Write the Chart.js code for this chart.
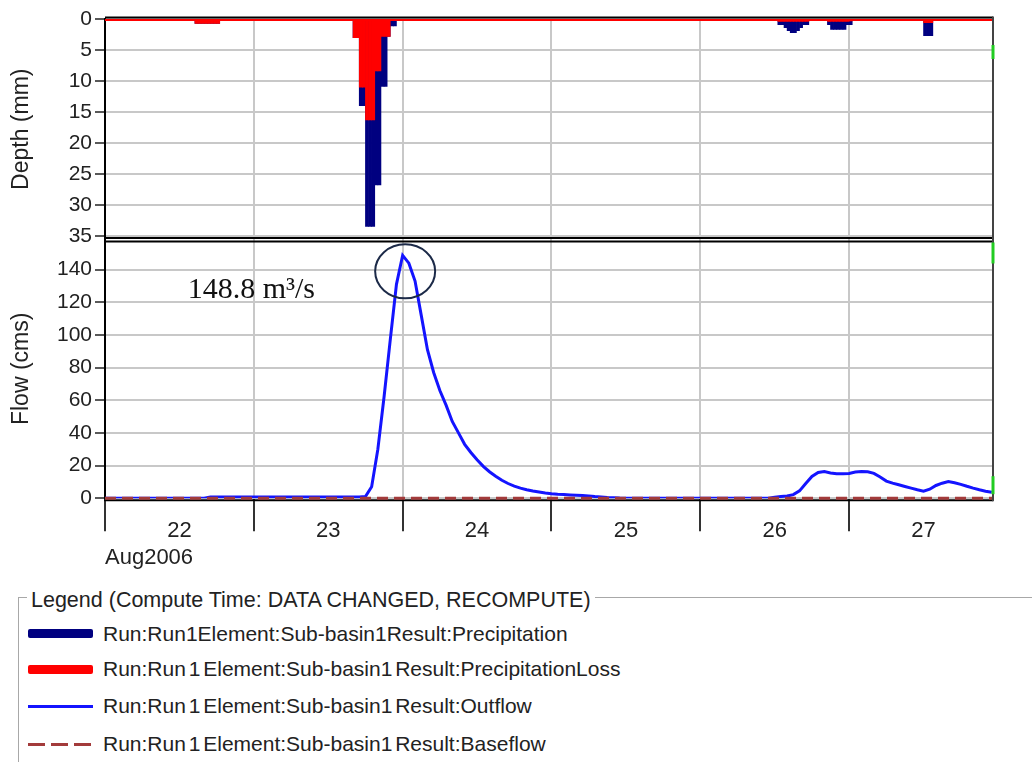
<!DOCTYPE html>
<html>
<head>
<meta charset="utf-8">
<script src="https://cdn.jsdelivr.net/npm/chart.js@4.4.0/dist/chart.umd.min.js"></script>
<style>
  html, body { margin: 0; padding: 0; background: #fff; }
  body { width: 1032px; height: 762px; position: relative; overflow: hidden;
         font-family: "Liberation Sans", Arial, sans-serif; color: #222; }
  #wrap { position: absolute; left: 0; top: 0; width: 1032px; height: 575px; }
  .legend-box { position: absolute; left: 18px; top: 597px; width: 1100px; height: 300px;
                border-top: 1px solid #a8a8a8; border-left: 1px solid #a8a8a8; }
  .legend-title { position: absolute; left: 27px; top: 587px; padding: 0 4px; background: #fff;
                  font-size: 21.5px; line-height: 26px; white-space: nowrap; }
  .item { position: absolute; left: 103px; font-size: 21px; line-height: 24px; white-space: nowrap; word-spacing: -3px; }
  .sw { position: absolute; left: 28px; width: 65px; }
</style>
</head>
<body>
<div id="wrap"><canvas id="chart" width="1032" height="575"></canvas></div>

<div class="legend-box"></div>
<div class="legend-title">Legend (Compute Time: DATA CHANGED, RECOMPUTE)</div>
<div class="sw" style="top:629px;height:9px;background:#000080;border-radius:2px"></div>
<div class="item" style="top:622px">Run:Run1Element:Sub-basin1Result:Precipitation</div>
<div class="sw" style="top:665px;height:9px;background:#ff0000;border-radius:2px"></div>
<div class="item" style="top:657px">Run:Run 1 Element:Sub-basin1 Result:PrecipitationLoss</div>
<div class="sw" style="top:705px;height:3px;background:#1414ff"></div>
<div class="item" style="top:694px">Run:Run 1 Element:Sub-basin1 Result:Outflow</div>
<div class="sw" style="top:743px;height:3px;background:repeating-linear-gradient(to right,#a33b3b 0 17px,transparent 17px 23px)"></div>
<div class="item" style="top:732px">Run:Run 1 Element:Sub-basin1 Result:Baseflow</div>

<script>
// time axis: hours after 22 Aug 2006 00:00
const dayLabels = ['22', '23', '24', '25', '26', '27'];
const monthLabel = 'Aug2006';
const hoursShown = 143.2;

// precipitation bars, half-hour intervals (start hour of interval)
const precipStep = 0.5;
const precipTime = [14.5, 15, 15.5, 16, 16.5, 17, 17.5, 18,
  40, 40.5, 41, 41.5, 42, 42.5, 43, 43.5, 44, 44.5, 45, 45.5, 46, 46.5,
  108.5, 109, 109.5, 110, 110.5, 111, 111.5, 112, 112.5, 113,
  116.5, 117, 117.5, 118, 118.5, 119, 119.5, 120,
  132, 132.5, 133];
const precipMm = [0.7, 0.7, 0.7, 0.7, 0.7, 0.7, 0.7, 0.7,
  3, 3, 14, 14, 33.5, 33.5, 33.5, 26.8, 26.8, 10.9, 10.9, 2.8, 1.1, 1.1,
  0.9, 0.9, 1.4, 1.9, 2.2, 2.2, 1.9, 1.4, 0.9, 0.9,
  0.9, 1.7, 1.7, 1.7, 1.7, 1.7, 0.9, 0.9,
  2.7, 2.7, 2.7];
const lossMm = [0.7, 0.7, 0.7, 0.7, 0.7, 0.7, 0.7, 0.7,
  3, 3, 11, 11, 16.3, 16.3, 16.3, 8.4, 8.4, 2.8, 2.8, 2.8, 0, 0,
  0.4, 0.4, 0.4, 0.4, 0.4, 0.4, 0.4, 0.4, 0.4, 0.4,
  0.4, 0.4, 0.4, 0.4, 0.4, 0.4, 0.4, 0.3,
  0.6, 0.6, 0.6];

// outflow, hourly from hour 0
const outflowCms = [
  0, 0, 0, 0, 0, 0, 0, 0, 0, 0, 0, 0, 0, 0, 0, 0, 0,
  0.8, 0.8, 0.8, 0.8, 0.8, 0.8, 0.8, 0.8, 0.8, 0.8, 0.8, 0.8, 0.8, 0.8, 0.8, 0.8, 0.8,
  0.8, 0.8, 0.8, 0.8, 0.8, 0.8, 0.8, 0.8,
  1.0, 7, 30, 62, 97, 131, 148.8, 144, 133, 112, 91, 77, 66, 57, 47, 40, 33, 28,
  23.5, 19.5, 16.2, 13.5, 11, 9, 7.4, 6.2, 5.2, 4.4, 3.8, 3.2, 2.7, 2.4, 2.2, 2.0,
  1.8, 1.6, 1.3, 1.0, 0.8, 0.5, 0.3, 0.1,
  0, 0, 0, 0, 0, 0, 0, 0, 0, 0, 0, 0, 0, 0, 0, 0, 0, 0, 0, 0, 0, 0, 0, 0,
  0.6, 1.0, 1.3, 2.2, 4.5, 9, 13.3, 15.8, 16.3, 15.5, 15, 15, 15.2, 16, 16.4, 16.2,
  15.2, 13, 10.5, 9.2, 8.2, 7.2, 6.2, 5.2, 4.3, 5.5, 7.8, 9.2, 10.2, 9.5, 8.5, 7.3,
  6.2, 5.2, 4.3, 3.7];

const baseflowTime = [0, hoursShown];
const baseflowCms = [0, 0];

const depthMax = 35.6;
const flowMax = 158.5;

const peakIdx = outflowCms.indexOf(Math.max(...outflowCms));
const peakFlow = outflowCms[peakIdx];

const tickHours = dayLabels.flatMap((d, i) => [24 * i, 24 * i + 12]);

const framePlugin = {
  id: 'frame',
  beforeDatasetsDraw(chart) {
    // time axis line sits just under the zero-flow line
    const { ctx, chartArea: a } = chart;
    ctx.save();
    ctx.strokeStyle = '#000';
    ctx.lineWidth = 2;
    ctx.beginPath(); ctx.moveTo(a.left - 1, a.bottom + 2); ctx.lineTo(a.right, a.bottom + 2); ctx.stroke();
    ctx.restore();
  },
  afterDraw(chart) {
    const { ctx, chartArea: a, scales } = chart;
    const d = scales.depth, f = scales.flow, x = scales.x;
    ctx.save();
    // red zero line of the loss series, top border
    ctx.strokeStyle = '#ff0000';
    ctx.lineWidth = 2;
    ctx.beginPath(); ctx.moveTo(a.left, d.top + 1); ctx.lineTo(a.right, d.top + 1); ctx.stroke();
    ctx.strokeStyle = '#000';
    ctx.lineWidth = 2;
    ctx.beginPath(); ctx.moveTo(a.left, d.top - 1.5); ctx.lineTo(a.right, d.top - 1.5); ctx.stroke();
    // panel separator
    ctx.beginPath(); ctx.moveTo(a.left, d.bottom - 1.5); ctx.lineTo(a.right, d.bottom - 1.5); ctx.stroke();
    ctx.beginPath(); ctx.moveTo(a.left, f.top + 2); ctx.lineTo(a.right, f.top + 2); ctx.stroke();
    // right border
    ctx.strokeStyle = '#444';
    ctx.beginPath(); ctx.moveTo(a.right, a.top - 2.5); ctx.lineTo(a.right, a.bottom + 3); ctx.stroke();
    ctx.strokeStyle = '#22cc22';
    ctx.lineWidth = 3;
    ctx.beginPath(); ctx.moveTo(a.right, d.top + 26); ctx.lineTo(a.right, d.top + 40); ctx.stroke();
    ctx.beginPath(); ctx.moveTo(a.right, f.top + 3); ctx.lineTo(a.right, f.top + 24); ctx.stroke();
    ctx.beginPath(); ctx.moveTo(a.right, f.bottom - 22); ctx.lineTo(a.right, f.bottom - 4); ctx.stroke();

    // peak annotation
    const px = x.getPixelForValue(peakIdx);
    const py = f.getPixelForValue(peakFlow);
    ctx.strokeStyle = '#1c2a48';
    ctx.lineWidth = 2;
    ctx.beginPath();
    ctx.ellipse(px + 2.5, py + 16, 30, 27, 0, 0, Math.PI * 2);
    ctx.stroke();
    ctx.fillStyle = '#111';
    ctx.font = '30px "Liberation Serif", "Times New Roman", serif';
    ctx.textBaseline = 'alphabetic';
    ctx.textAlign = 'left';
    ctx.fillText(peakFlow + ' m\u00b3/s', px - 215, py + 43);
    ctx.restore();
  }
};

Chart.defaults.font.family = '"Liberation Sans", Arial, sans-serif';
Chart.defaults.color = '#222';

new Chart(document.getElementById('chart'), {
  type: 'line',
  data: {
    datasets: [
      {
        type: 'bar', label: 'PrecipitationLoss', order: 1, grouped: false,
        data: precipTime.map((t, i) => ({ x: t + precipStep / 2, y: lossMm[i] })),
        backgroundColor: '#ff0000', borderWidth: 0,
        barPercentage: 1, categoryPercentage: 1,
        xAxisID: 'x', yAxisID: 'depth'
      },
      {
        type: 'bar', label: 'Precipitation', order: 2, grouped: false,
        data: precipTime.map((t, i) => ({ x: t + precipStep / 2, y: precipMm[i] })),
        backgroundColor: '#000080', borderWidth: 0,
        barPercentage: 1, categoryPercentage: 1,
        xAxisID: 'x', yAxisID: 'depth'
      },
      {
        label: 'Baseflow', order: 3,
        data: baseflowTime.map((t, i) => ({ x: t, y: baseflowCms[i] })),
        borderColor: '#a33b3b', borderWidth: 3, borderDash: [11, 6],
        pointRadius: 0, xAxisID: 'x', yAxisID: 'flow', clip: 4
      },
      {
        label: 'Outflow', order: 4,
        data: outflowCms.map((v, i) => ({ x: i, y: v })),
        borderColor: '#1414ff', borderWidth: 3, tension: 0,
        pointRadius: 0, xAxisID: 'x', yAxisID: 'flow'
      }
    ]
  },
  options: {
    responsive: false,
    animation: false,
    layout: { padding: { left: 0, top: 19, right: 39, bottom: 0 } },
    plugins: { legend: { display: false }, tooltip: { enabled: false } },
    scales: {
      x: {
        type: 'linear', min: 0, max: hoursShown, offset: false,
        afterBuildTicks: s => { s.ticks = tickHours.map(v => ({ value: v })); },
        grid: {
          offset: false,
          color: c => (c.tick && c.tick.value % 24 === 0) ? '#c8c8c8' : 'rgba(0,0,0,0)',
          lineWidth: 2, drawTicks: true, tickLength: 33, tickWidth: 2,
          tickColor: c => (c.tick && c.tick.value % 24 === 0) ? '#333' : 'rgba(0,0,0,0)'
        },
        border: { display: false },
        ticks: {
          autoSkip: false, maxRotation: 0, padding: -13, font: { size: 22 }, color: '#222',
          callback: v => (v % 24 === 12) ? dayLabels[(v - 12) / 24] : ''
        },
        title: { display: true, text: monthLabel, align: 'start', font: { size: 22 }, color: '#222', padding: { top: 13, bottom: 4 } }
      },
      flow: {
        type: 'linear', position: 'left', stack: 'panels', stackWeight: 257,
        min: 0, max: flowMax,
        afterFit: s => { s.width = 105; },
        ticks: { stepSize: 20, autoSkip: false, includeBounds: false, font: { size: 21 }, color: '#222', padding: 3 },
        grid: { color: '#c8c8c8', lineWidth: 2, tickColor: '#222', tickLength: 10, tickWidth: 1.5 },
        border: { color: '#000', width: 2 },
        title: { display: true, text: 'Flow (cms)', font: { size: 23 }, color: '#222', padding: { top: 8, bottom: 0 } }
      },
      depth: {
        type: 'linear', position: 'left', stack: 'panels', stackWeight: 219,
        reverse: true, min: 0, max: depthMax,
        afterFit: s => { s.width = 105; },
        ticks: { stepSize: 5, autoSkip: false, includeBounds: false, font: { size: 21 }, color: '#222', padding: 3 },
        grid: { color: '#c8c8c8', lineWidth: 2, tickColor: '#222', tickLength: 10, tickWidth: 1.5 },
        border: { color: '#000', width: 2 },
        title: { display: true, text: 'Depth (mm)', font: { size: 23 }, color: '#222', padding: { top: 8, bottom: 0 } }
      }
    }
  },
  plugins: [framePlugin]
});
</script>
</body>
</html>
